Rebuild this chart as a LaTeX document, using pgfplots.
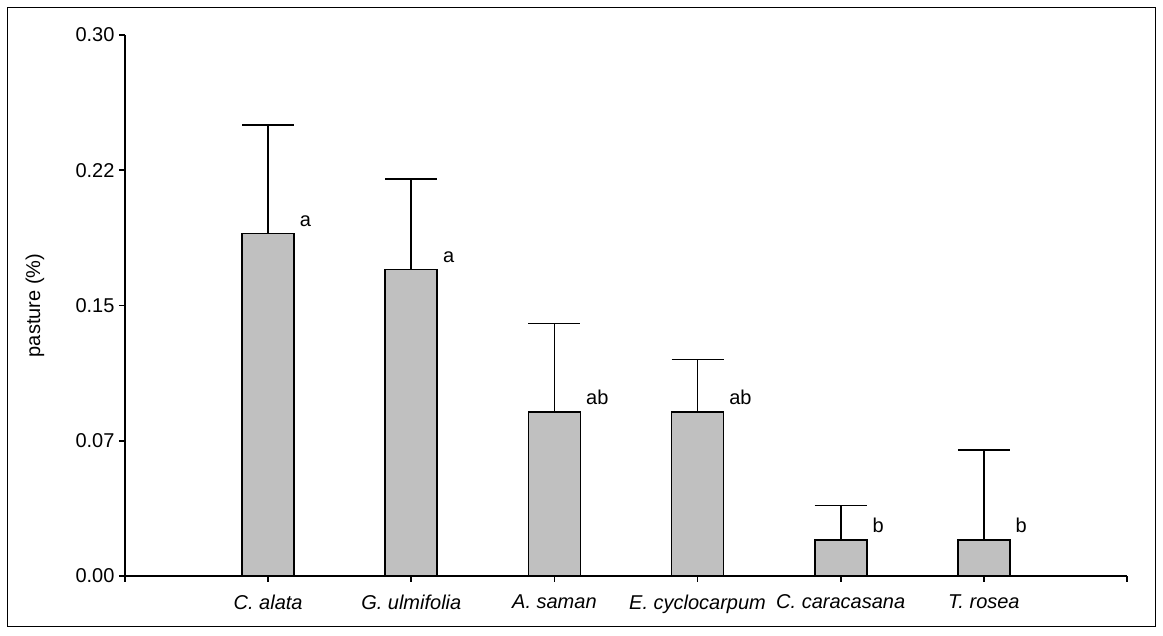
\documentclass[border=0pt]{standalone}
\usepackage{pgfplots}
\pgfplotsset{compat=1.18}
\usepackage{pgfplotstable}
\usepackage{fontspec}
\setmainfont{Liberation Sans}
\definecolor{bargray}{HTML}{C0C0C0}
\pgfplotstableread{
x y e l
0 0.190 0.060 a
1 0.170 0.050 a
2 0.091 0.049 ab
3 0.091 0.029 ab
4 0.020 0.019 b
5 0.020 0.050 b
}\datatable
\newcommand{\bigf}{\fontsize{20}{24}\selectfont}
\begin{document}
\begin{tikzpicture}
\begin{axis}[
  name=ax,
  at={(0,0)}, anchor=south west,
  scale only axis,
  width=1002pt, height=541pt,
  xmin=-1, xmax=6, ymin=0, ymax=0.30,
  axis lines*=left,
  axis line style={line width=1.6pt, black},
  tick style={line width=1.6pt, black},
  tick align=outside,
  major tick length=6pt,
  ytick={0,0.075,0.15,0.225,0.30},
  yticklabels={0.00,0.07,0.15,0.22,0.30},
  xtick={-1,0,1,2,3,4,5,6},
  xticklabels={,\textit{C. alata},\textit{G. ulmifolia},\textit{A. saman},\textit{E. cyclocarpum},\textit{C. caracasana},\textit{T. rosea},},
  /pgf/number format/assume math mode=true,
  ticklabel style={font=\bigf},
  yticklabel style={xshift=-1pt},
  xticklabel style={yshift=-9pt},
  ylabel={pasture (\%)},
  ylabel style={at={(axis description cs:-0.0898,0.5)}, anchor=center, font=\bigf},
  clip=false,
]
\addplot[ybar, bar width=52pt, fill=bargray, draw=black, line width=1.6pt,
  point meta=explicit symbolic,
  nodes near coords,
  every node near coord/.style={anchor=base west, inner sep=0pt, xshift=31pt, yshift=7pt, font=\bigf, black},
  error bars/.cd, y dir=plus, y explicit,
  error bar style={line width=1.6pt, black},
  error mark options={line width=1.6pt, black, mark size=26pt, rotate=90}]
  table[x=x, y=y, y error=e, meta=l] {\datatable};
\end{axis}
\draw[line width=1pt] ([shift={(-117pt,-51pt)}]ax.south west) rectangle ([shift={(1030pt,568pt)}]ax.south west);
\path ([shift={(-125pt,-60pt)}]ax.south west) rectangle ([shift={(1038pt,576pt)}]ax.south west);
\end{tikzpicture}
\end{document}
